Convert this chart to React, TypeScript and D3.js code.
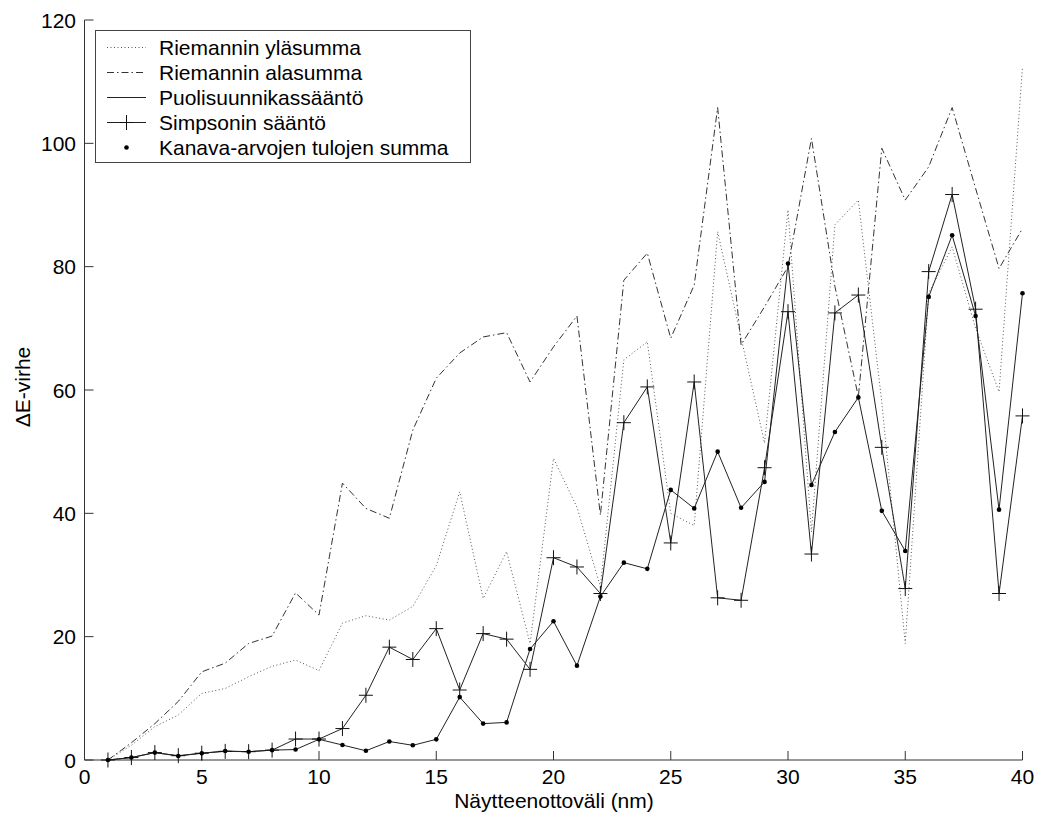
import React from "react";
import * as d3 from "d3";

const samplePoints = [1,2,3,4,5,6,7,8,9,10,11,12,13,14,15,16,17,18,19,20,21,22,23,24,25,26,27,28,29,30,31,32,33,34,35,36,37,38,39,40];

const riemannUpper = [0,2.4,5.4,7.3,10.8,11.6,13.5,15.2,16.2,14.5,22.2,23.4,22.7,24.9,31.5,43.5,26.2,33.8,18.9,48.9,41,28.1,64.9,67.8,40,38,85.7,68.5,51.4,89.2,37,86.8,90.8,58,18.9,75.7,83.2,70,59.7,112.4];

const riemannLower = [0,2.8,5.9,9.5,14.3,15.7,18.9,20.1,27.1,23.5,44.9,40.8,39.2,53.5,61.9,66.0,68.6,69.3,61.3,67.0,72.0,39.7,77.8,82.2,68.4,77.0,105.8,67.3,73.5,80,100.8,76.8,58.9,99.2,90.8,96.2,105.8,92.7,79.7,86.2];

const trapezoid = [0,0.4,1.2,0.65,1.1,1.46,1.35,1.6,1.7,3.35,2.43,1.5,3.0,2.38,3.35,10.2,5.9,6.1,18.0,22.5,15.3,26.5,32.0,31.0,43.8,40.8,50.0,40.9,45.1,80.5,44.6,53.2,58.8,40.4,33.9,75.1,85.1,72.0,40.6,75.7];

const simpson = [0,0.4,1.2,0.7,1.1,1.4,1.35,1.6,3.4,3.4,5.1,10.5,18.3,16.3,21.3,11.35,20.5,19.6,14.7,32.8,31.3,27.0,54.7,60.5,35.2,61.3,26.3,25.9,47.4,72.7,33.4,72.5,75.4,50.7,27.8,79.2,91.7,73.1,27.0,55.8];

const channelProductSum = [0,0.4,1.2,0.65,1.1,1.46,1.35,1.6,1.7,3.35,2.43,1.5,3.0,2.38,3.35,10.2,5.9,6.1,18.0,22.5,15.3,26.5,32.0,31.0,43.8,40.8,50.0,40.9,45.1,80.5,44.6,53.2,58.8,40.4,33.9,75.1,85.1,72.0,40.6,75.7];

const xTicks = [0,5,10,15,20,25,30,35,40];
const yTicks = [0,20,40,60,80,100,120];

const legendLabels = [
  "Riemannin yläsumma",
  "Riemannin alasumma",
  "Puolisuunnikassääntö",
  "Simpsonin sääntö",
  "Kanava-arvojen tulojen summa",
];

const FONT = "'Liberation Sans', Arial, sans-serif";

export default function App() {
  const x = d3.scaleLinear().domain([0, 40]).range([84.5, 1022.5]);
  const y = d3.scaleLinear().domain([0, 120]).range([760, 20]);

  const mk = (vals: number[]) =>
    d3.line<number>().x((_, i) => x(samplePoints[i])).y((v) => y(v))(vals) || "";

  const dotted = { stroke: "#555", strokeWidth: 1, strokeDasharray: "1 2.5" };
  const dashdot = { stroke: "#333", strokeWidth: 1, strokeDasharray: "7 3 1.5 3" };
  const solid = { stroke: "#222", strokeWidth: 1 };

  const plus = (cx: number, cy: number, k: string) => (
    <path key={k} d={`M${cx - 7},${cy}H${cx + 7}M${cx},${cy - 7.5}V${cy + 7.5}`} stroke="#111" strokeWidth={1} fill="none" />
  );

  const legendRowY = [47.5, 72.5, 97.5, 122.5, 147.5];

  return (
    <svg width={1040} height={820} style={{ position: "absolute", left: 0, top: 0, background: "#fff" }} fontFamily={FONT}>
      <rect x={0} y={0} width={1040} height={820} fill="#fff" />
      {/* axes */}
      <line x1={x(0)} x2={x(0)} y1={y(0)} y2={y(120)} stroke="#333" strokeWidth={1} />
      <line x1={x(0)} x2={x(40)} y1={y(0)} y2={y(0)} stroke="#333" strokeWidth={1} />
      {xTicks.map((t) => (
        <g key={"xt" + t}>
          <line x1={x(t)} x2={x(t)} y1={y(0)} y2={y(0) - 9} stroke="#333" />
          <text x={x(t)} y={784} textAnchor="middle" fontSize={21} fill="#000">{t}</text>
        </g>
      ))}
      {yTicks.map((t) => (
        <g key={"yt" + t}>
          <line x1={x(0)} x2={x(0) + 9} y1={y(t)} y2={y(t)} stroke="#333" />
          <text x={76} y={y(t) + 7.5} textAnchor="end" fontSize={21} fill="#000">{t}</text>
        </g>
      ))}
      <text x={554} y={808} textAnchor="middle" fontSize={21} fill="#000">Näytteenottoväli (nm)</text>
      <text transform="translate(30,387) rotate(-90)" textAnchor="middle" fontSize={21} fill="#000">ΔE-virhe</text>

      {/* series */}
      <path d={mk(riemannUpper)} fill="none" {...dotted} />
      <path d={mk(riemannLower)} fill="none" {...dashdot} />
      <path d={mk(trapezoid)} fill="none" {...solid} />
      <path d={mk(simpson)} fill="none" {...solid} />
      {simpson.map((v, i) => plus(x(samplePoints[i]), y(v), "p" + i))}
      {channelProductSum.map((v, i) => (
        <circle key={"d" + i} cx={x(samplePoints[i])} cy={y(v)} r={2.3} fill="#000" />
      ))}

      {/* legend */}
      <rect x={95.5} y={30.5} width={375} height={132} fill="#fff" stroke="#444" strokeWidth={1} />
      {legendLabels.map((lab, i) => (
        <text key={lab} x={159} y={legendRowY[i] + 7.5} fontSize={21} fill="#000">{lab}</text>
      ))}
      <line x1={107} x2={146} y1={legendRowY[0]} y2={legendRowY[0]} {...dotted} />
      <line x1={107} x2={146} y1={legendRowY[1]} y2={legendRowY[1]} {...dashdot} />
      <line x1={107} x2={146} y1={legendRowY[2]} y2={legendRowY[2]} {...solid} />
      <line x1={107} x2={146} y1={legendRowY[3]} y2={legendRowY[3]} {...solid} />
      {plus(126.5, legendRowY[3], "lp")}
      <circle cx={126.5} cy={legendRowY[4]} r={2.3} fill="#000" />
    </svg>
  );
}
